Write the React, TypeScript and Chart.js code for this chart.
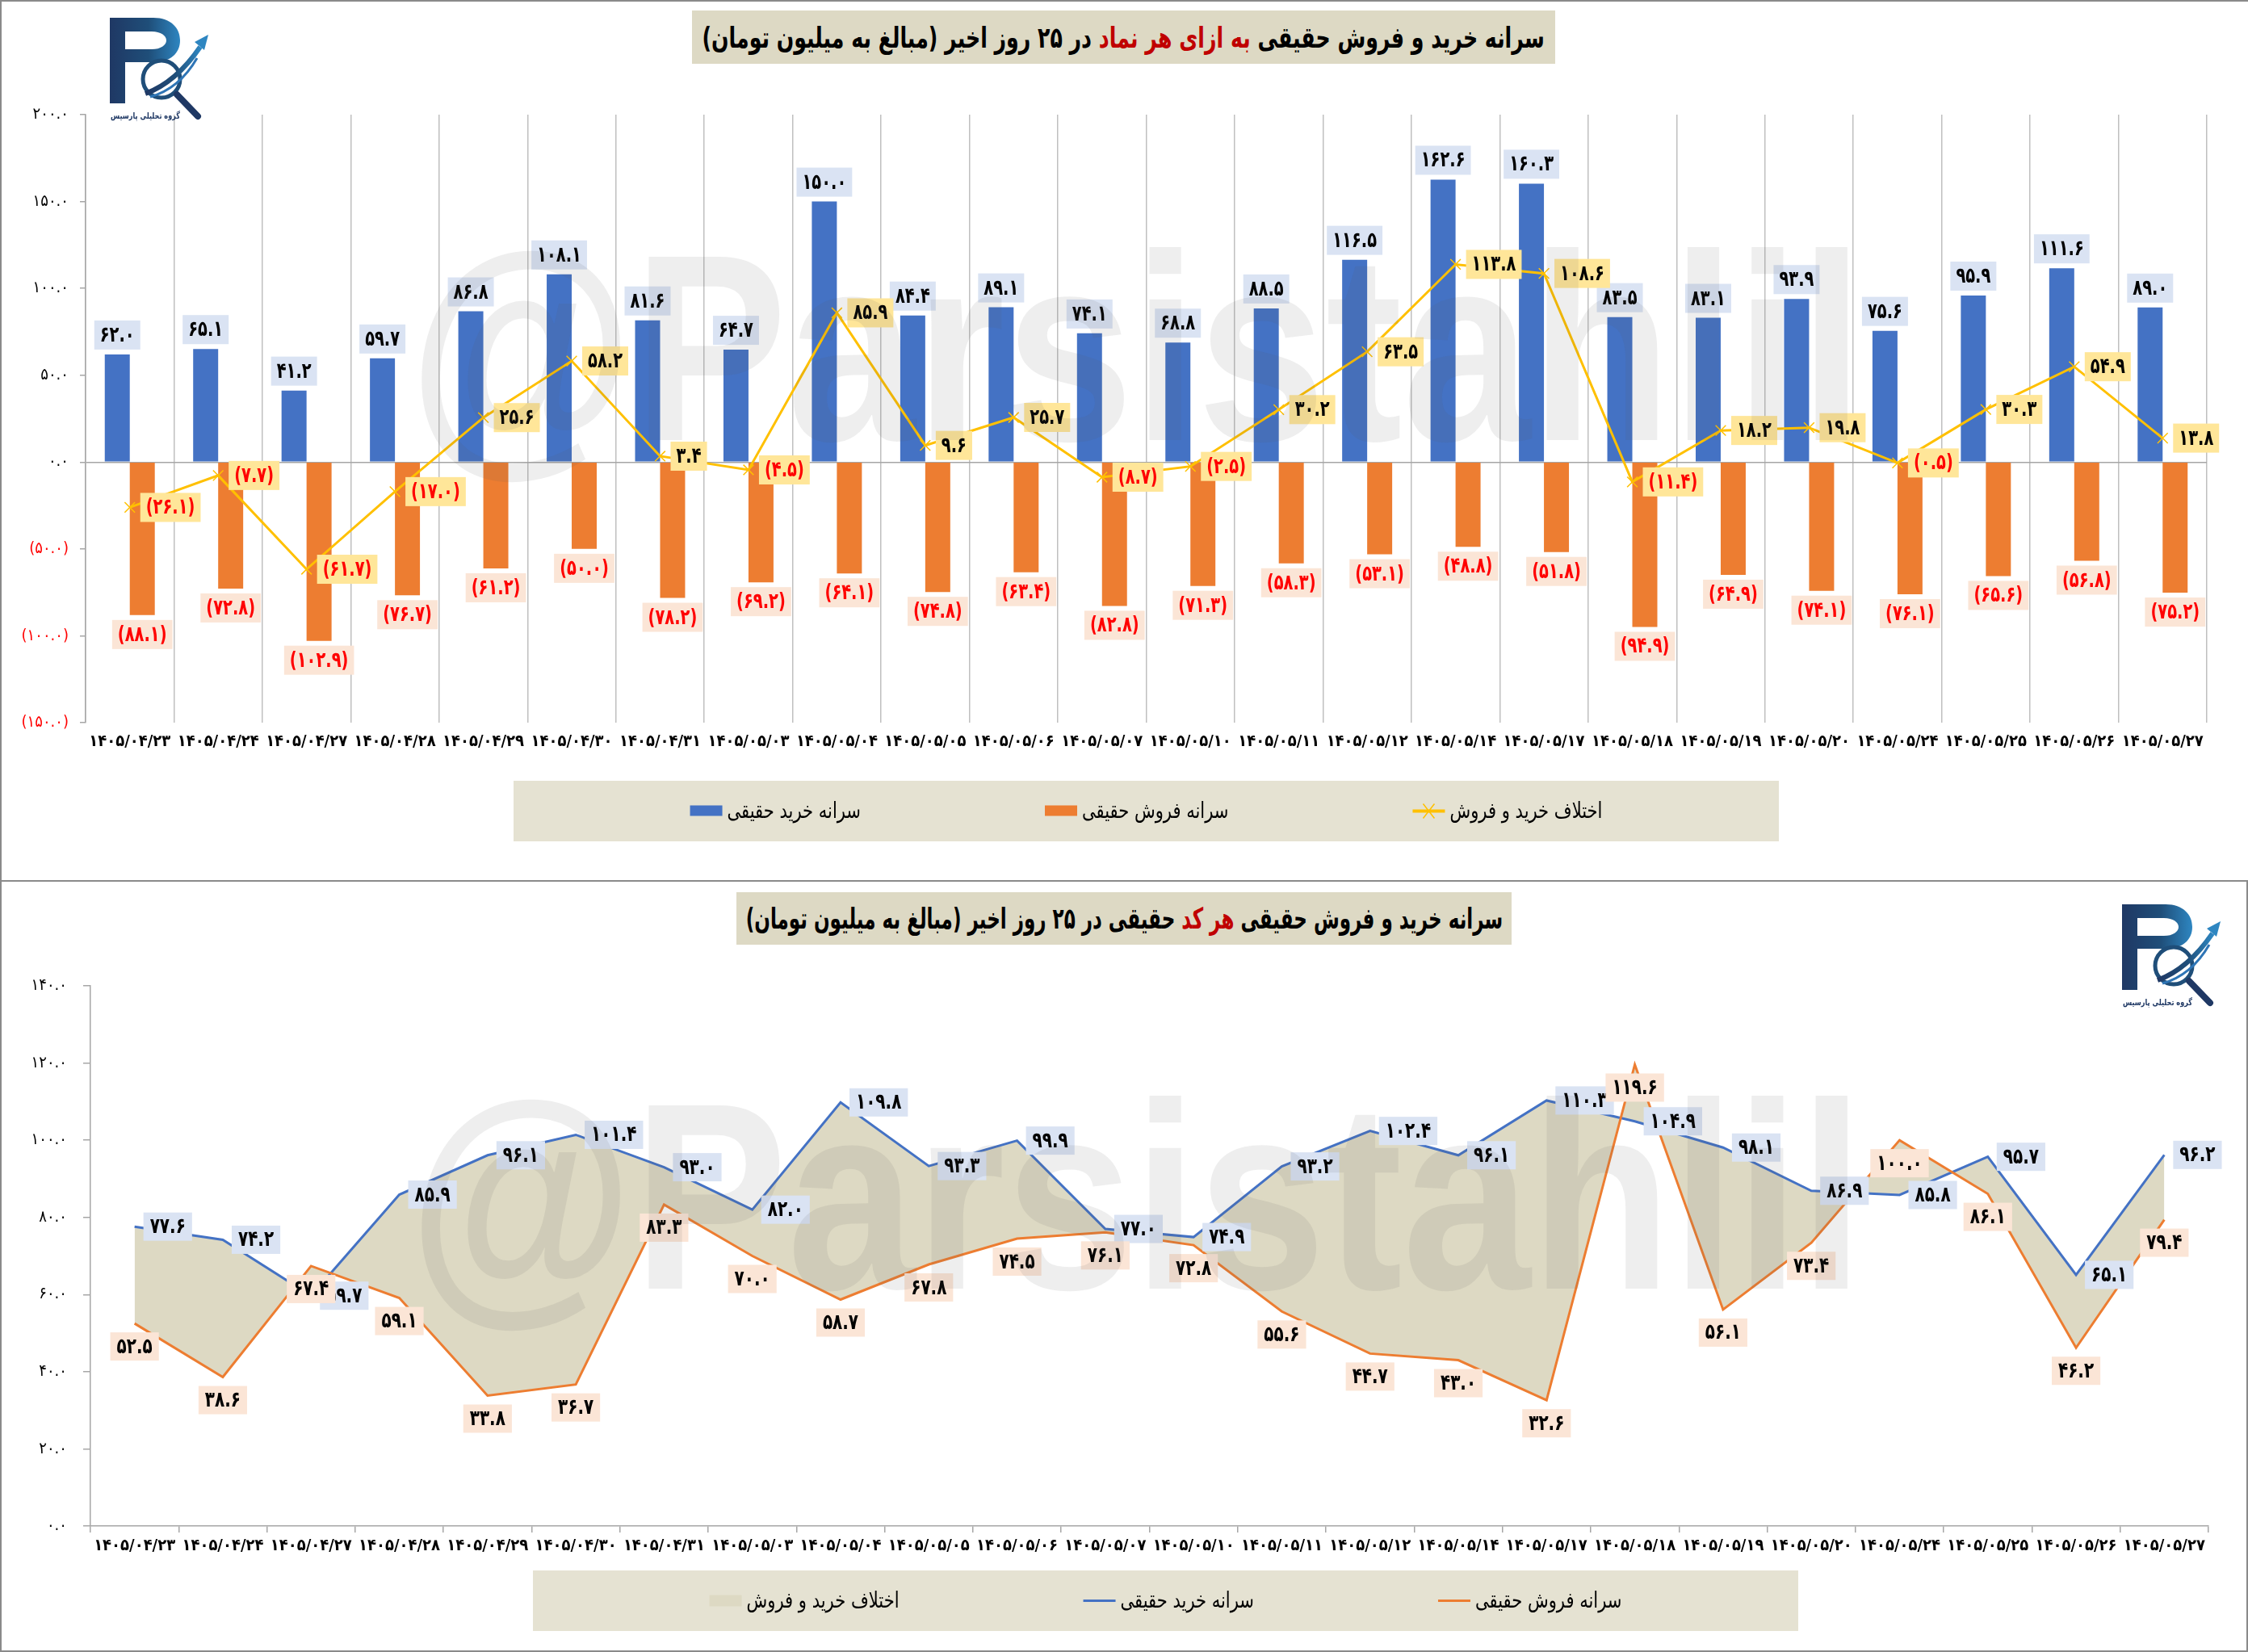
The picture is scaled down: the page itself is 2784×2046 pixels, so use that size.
import { useEffect, useRef } from "react";
import { Chart, registerables } from "chart.js";

Chart.register(...registerables);

const FONT = "'DejaVu Sans', sans-serif";
const NARROW = "'DejaVu Sans Condensed', 'DejaVu Sans', sans-serif";
Chart.defaults.font.family = FONT;
Chart.defaults.color = "#000";

// تاریخ‌ها (محور افقی هر دو نمودار)
const dates = [
  "۱۴۰۵/۰۴/۲۳", "۱۴۰۵/۰۴/۲۴", "۱۴۰۵/۰۴/۲۷", "۱۴۰۵/۰۴/۲۸", "۱۴۰۵/۰۴/۲۹", "۱۴۰۵/۰۴/۳۰",
  "۱۴۰۵/۰۴/۳۱", "۱۴۰۵/۰۵/۰۳", "۱۴۰۵/۰۵/۰۴", "۱۴۰۵/۰۵/۰۵", "۱۴۰۵/۰۵/۰۶", "۱۴۰۵/۰۵/۰۷",
  "۱۴۰۵/۰۵/۱۰", "۱۴۰۵/۰۵/۱۱", "۱۴۰۵/۰۵/۱۲", "۱۴۰۵/۰۵/۱۴", "۱۴۰۵/۰۵/۱۷", "۱۴۰۵/۰۵/۱۸",
  "۱۴۰۵/۰۵/۱۹", "۱۴۰۵/۰۵/۲۰", "۱۴۰۵/۰۵/۲۴", "۱۴۰۵/۰۵/۲۵", "۱۴۰۵/۰۵/۲۶", "۱۴۰۵/۰۵/۲۷",
];

// نمودار بالا: به ازای هر نماد
const symbolBuy = [62.0, 65.1, 41.2, 59.7, 86.8, 108.1, 81.6, 64.7, 150.0, 84.4, 89.1, 74.1, 68.8, 88.5, 116.5, 162.6, 160.3, 83.5, 83.1, 93.9, 75.6, 95.9, 111.6, 89.0];
const symbolSell = [-88.1, -72.8, -102.9, -76.7, -61.2, -50.0, -78.2, -69.2, -64.1, -74.8, -63.4, -82.8, -71.3, -58.3, -53.1, -48.8, -51.8, -94.9, -64.9, -74.1, -76.1, -65.6, -56.8, -75.2];
const symbolNet = [-26.1, -7.7, -61.7, -17.0, 25.6, 58.2, 3.4, -4.5, 85.9, 9.6, 25.7, -8.7, -2.5, 30.2, 63.5, 113.8, 108.6, -11.4, 18.2, 19.8, -0.5, 30.3, 54.9, 13.8];

// نمودار پایین: هر کد حقیقی
const codeBuy = [77.6, 74.2, 59.7, 85.9, 96.1, 101.4, 93.0, 82.0, 109.8, 93.3, 99.9, 77.0, 74.9, 93.2, 102.4, 96.1, 110.3, 104.9, 98.1, 86.9, 85.8, 95.7, 65.1, 96.2];
const codeSell = [52.5, 38.6, 67.4, 59.1, 33.8, 36.7, 83.3, 70.0, 58.7, 67.8, 74.5, 76.1, 72.8, 55.6, 44.7, 43.0, 32.6, 119.6, 56.1, 73.4, 100.0, 86.1, 46.2, 79.4];

const faDigits = "۰۱۲۳۴۵۶۷۸۹";
const fa = (v: number) => v.toFixed(1).replace(/\d/g, (d) => faDigits[+d]);
const faSigned = (v: number) => (v < 0 ? `(${fa(-v)})` : fa(v));

// text squeezed horizontally, to look like the narrow Persian display font
function narrowText(ctx: CanvasRenderingContext2D, text: string, x: number, y: number, sx: number) {
  ctx.save();
  ctx.translate(x, y);
  ctx.scale(sx, 1);
  ctx.fillText(text, 0, 0);
  ctx.restore();
}

// boxed value labels next to bars / points
const valueLabels = {
  id: "valueLabels",
  afterDatasetsDraw(chart: any) {
    const ctx = chart.ctx;
    chart.data.datasets.forEach((ds: any, i: number) => {
      const opt = ds.valueLabel;
      if (!opt) return;
      const meta = chart.getDatasetMeta(i);
      ctx.save();
      ctx.font = `bold ${opt.size}px ${FONT}`;
      ctx.textAlign = "center";
      ctx.textBaseline = "middle";
      meta.data.forEach((el: any, j: number) => {
        const v = ds.data[j];
        const text = faSigned(v);
        const w = ctx.measureText(text).width * opt.sx + opt.padX * 2;
        const h = opt.boxH;
        let cx = el.x;
        let cy = el.y;
        if (opt.pos === "top") cy = el.y - opt.gap - h / 2;
        else if (opt.pos === "bottom") cy = el.y + opt.gap + h / 2;
        else cx = el.x + opt.gap + w / 2;
        ctx.fillStyle = opt.bg;
        ctx.fillRect(cx - w / 2, cy - h / 2, w, h);
        ctx.fillStyle = v < 0 ? opt.negColor : opt.color;
        narrowText(ctx, text, cx, cy + 1, opt.sx);
      });
      ctx.restore();
    });
  },
};

// legend inside a shaded box
const boxLegend = {
  id: "boxLegend",
  afterDraw(chart: any, _args: any, opts: any) {
    const ctx = chart.ctx;
    const { x, y, w, h, gap, size, sx, bg } = opts;
    const sym = 40;
    const sp = 6;
    ctx.save();
    ctx.fillStyle = bg;
    ctx.fillRect(x, y, w, h);
    ctx.font = `${size}px ${FONT}`;
    ctx.textBaseline = "middle";
    ctx.textAlign = "left";
    const items = chart.data.datasets.map((ds: any) => ({ ds, tw: ctx.measureText(ds.label).width * sx }));
    const total = items.reduce((s: number, it: any) => s + sym + sp + it.tw, 0) + gap * (items.length - 1);
    let cx = x + (w - total) / 2;
    const cy = y + h / 2;
    items.forEach(({ ds, tw }: any) => {
      if (ds.legendSymbol === "box") {
        ctx.fillStyle = ds.backgroundColor;
        ctx.fillRect(cx, cy - 7, sym, 13);
      } else if (ds.legendSymbol === "area") {
        ctx.fillStyle = ds.backgroundColor;
        ctx.fillRect(cx, cy - 7, sym, 14);
      } else {
        ctx.strokeStyle = ds.borderColor;
        ctx.lineWidth = ds.legendLineWidth || 3;
        ctx.beginPath();
        ctx.moveTo(cx, cy);
        ctx.lineTo(cx + sym, cy);
        ctx.stroke();
        if (ds.pointStyle === "crossRot") {
          ctx.lineWidth = 1.5;
          ctx.beginPath();
          ctx.moveTo(cx + sym / 2 - 7, cy - 9);
          ctx.lineTo(cx + sym / 2 + 7, cy + 9);
          ctx.moveTo(cx + sym / 2 + 7, cy - 9);
          ctx.lineTo(cx + sym / 2 - 7, cy + 9);
          ctx.stroke();
        }
      }
      ctx.fillStyle = "#000";
      narrowText(ctx, ds.label, cx + sym + sp, cy + 1, sx);
      cx += sym + sp + tw + gap;
    });
    ctx.restore();
  },
};

const xTickFont = { family: NARROW, size: 20, weight: "bold" as const };
const yTickFont = { family: NARROW, size: 20 };

function SymbolChart() {
  const chartRef = useRef<HTMLCanvasElement>(null);
  const chartInstance = useRef<Chart | null>(null);

  useEffect(() => {
    if (!chartRef.current) return;
    if (chartInstance.current) chartInstance.current.destroy();

    chartInstance.current = new Chart(chartRef.current, {
      type: "bar",
      data: {
        labels: dates,
        datasets: [
          {
            type: "bar",
            label: "سرانه خرید حقیقی",
            data: symbolBuy,
            backgroundColor: "#4472c4",
            order: 1,
            legendSymbol: "box",
            valueLabel: { pos: "top", gap: 6, boxH: 36, padX: 7, size: 27, sx: 0.72, bg: "#dae3f3", color: "#000", negColor: "#ff0000" },
          } as any,
          {
            type: "bar",
            label: "سرانه فروش حقیقی",
            data: symbolSell,
            backgroundColor: "#ed7d31",
            order: 1,
            legendSymbol: "box",
            valueLabel: { pos: "bottom", gap: 6, boxH: 36, padX: 7, size: 27, sx: 0.72, bg: "#fbe5d6", color: "#ff0000", negColor: "#ff0000" },
          } as any,
          {
            type: "line",
            label: "اختلاف خرید و فروش",
            data: symbolNet,
            borderColor: "#ffc000",
            backgroundColor: "#ffc000",
            borderWidth: 3,
            pointStyle: "crossRot",
            pointRadius: 9,
            pointBorderColor: "#ffc000",
            pointBorderWidth: 1.5,
            order: 0,
            legendSymbol: "line",
            legendLineWidth: 4,
            valueLabel: { pos: "right", gap: 13, boxH: 36, padX: 7, size: 27, sx: 0.72, bg: "#ffe699", color: "#000", negColor: "#ff0000" },
          } as any,
        ],
      },
      options: {
        responsive: true,
        maintainAspectRatio: false,
        animation: false,
        datasets: { bar: { categoryPercentage: 0.566, barPercentage: 1 } },
        layout: { padding: { top: 142, right: 51, left: 0, bottom: 0 } },
        plugins: {
          legend: { display: false },
          tooltip: { enabled: false },
          boxLegend: { x: 636, y: 967, w: 1567, h: 75, gap: 228, size: 27, sx: 0.78, bg: "#e5e2d2" },
        } as any,
        scales: {
          x: {
            afterFit: (scale: any) => { scale.height = 197; },
            grid: { offset: true, color: "#bfbfbf", lineWidth: 1.5, drawTicks: false },
            border: { display: false },
            ticks: { autoSkip: false, maxRotation: 0, padding: 12, font: xTickFont },
          },
          y: {
            min: -150,
            max: 200,
            afterFit: (scale: any) => { scale.width = 106; },
            grid: {
              color: (c: any) => (c.tick && c.tick.value === 0 ? "#a6a6a6" : "transparent"),
              tickColor: "#a6a6a6",
              tickLength: 7,
              lineWidth: 1.5,
            },
            border: { display: true, color: "#a6a6a6", width: 1.5 },
            ticks: {
              stepSize: 50,
              padding: 14,
              font: yTickFont,
              color: (c: any) => (c.tick && c.tick.value < 0 ? "#ff0000" : "#000"),
              callback: (v: any) => faSigned(Number(v)),
            },
          },
        },
      },
      plugins: [valueLabels, boxLegend],
    } as any);

    return () => {
      if (chartInstance.current) {
        chartInstance.current.destroy();
        chartInstance.current = null;
      }
    };
  }, []);

  return (
    <div style={{ position: "absolute", left: 0, top: 0, width: 2784, height: 1092 }}>
      <canvas ref={chartRef} />
    </div>
  );
}

function CodeChart() {
  const chartRef = useRef<HTMLCanvasElement>(null);
  const chartInstance = useRef<Chart | null>(null);

  useEffect(() => {
    if (!chartRef.current) return;
    if (chartInstance.current) chartInstance.current.destroy();

    chartInstance.current = new Chart(chartRef.current, {
      type: "line",
      data: {
        labels: dates,
        datasets: [
          {
            label: "اختلاف خرید و فروش",
            data: codeBuy,
            borderColor: "transparent",
            borderWidth: 0,
            pointRadius: 0,
            backgroundColor: "#ddd9c3",
            fill: { target: 2 },
            order: 2,
            legendSymbol: "area",
          } as any,
          {
            label: "سرانه خرید حقیقی",
            data: codeBuy,
            borderColor: "#4472c4",
            borderWidth: 3,
            pointRadius: 0,
            fill: false,
            order: 1,
            legendSymbol: "line",
            valueLabel: { pos: "right", gap: 11, boxH: 35, padX: 8, size: 27, sx: 0.74, bg: "#dae3f3", color: "#000", negColor: "#000" },
          } as any,
          {
            label: "سرانه فروش حقیقی",
            data: codeSell,
            borderColor: "#ed7d31",
            borderWidth: 3,
            pointRadius: 0,
            fill: false,
            order: 0,
            legendSymbol: "line",
            valueLabel: { pos: "bottom", gap: 11, boxH: 35, padX: 8, size: 27, sx: 0.74, bg: "#fbe5d6", color: "#000", negColor: "#000" },
          } as any,
        ],
      },
      options: {
        responsive: true,
        maintainAspectRatio: false,
        animation: false,
        layout: { padding: { top: 129, right: 49, left: 0, bottom: 0 } },
        plugins: {
          legend: { display: false },
          tooltip: { enabled: false },
          boxLegend: { x: 660, y: 853, w: 1567, h: 75, gap: 228, size: 27, sx: 0.78, bg: "#e5e2d2" },
        } as any,
        scales: {
          x: {
            offset: true,
            afterFit: (scale: any) => { scale.height = 156; },
            grid: { offset: true, drawOnChartArea: false, tickColor: "#a6a6a6", tickLength: 8, lineWidth: 1.5 },
            border: { display: true, color: "#a6a6a6", width: 1.5 },
            ticks: { autoSkip: false, maxRotation: 0, padding: 5, font: xTickFont },
          },
          y: {
            min: 0,
            max: 140,
            afterFit: (scale: any) => { scale.width = 112; },
            grid: { drawOnChartArea: false, tickColor: "#a6a6a6", tickLength: 9, lineWidth: 1.5 },
            border: { display: true, color: "#a6a6a6", width: 1.5 },
            ticks: {
              stepSize: 20,
              padding: 20,
              font: yTickFont,
              callback: (v: any) => fa(Number(v)),
            },
          },
        },
      },
      plugins: [valueLabels, boxLegend],
    } as any);

    return () => {
      if (chartInstance.current) {
        chartInstance.current.destroy();
        chartInstance.current = null;
      }
    };
  }, []);

  return (
    <div style={{ position: "absolute", left: 0, top: 0, width: 2784, height: 954 }}>
      <canvas ref={chartRef} />
    </div>
  );
}

function Logo({ left, top }: { left: number; top: number }) {
  return (
    <svg width={150} height={150} viewBox="0 0 150 150" style={{ position: "absolute", left, top }}>
      <defs>
        <linearGradient id="logoGrad" x1="0" y1="0" x2="1" y2="0">
          <stop offset="0" stopColor="#1f3864" />
          <stop offset="0.55" stopColor="#1f4e79" />
          <stop offset="1" stopColor="#2e86c1" />
        </linearGradient>
      </defs>
      <path
        fillRule="evenodd"
        fill="url(#logoGrad)"
        d="M16 12 H70 C92 12 103 25 103 40 C103 56 91 67 70 67 H35 V118 H16 Z M35 29 H68 C79 29 86 34 86 40 C86 46 79 51 68 51 H35 Z"
      />
      <circle cx={80} cy={88} r={23} fill="#fff" stroke="#1f4e79" strokeWidth={5} />
      <path d="M60 106 Q 98 92 128 48" stroke="url(#logoGrad)" strokeWidth={6} fill="none" />
      <path d="M66 110 Q 102 100 124 62" stroke="#2e75b6" strokeWidth={3} fill="none" />
      <polygon points="121,42 138,33 133,52" fill="#2e86c1" />
      <line x1={99} y1={107} x2={125} y2={134} stroke="#1f3864" strokeWidth={8} strokeLinecap="round" />
      <text
        x={60}
        y={137}
        fontSize={11}
        fontWeight="bold"
        fill="#1f3864"
        textAnchor="middle"
        fontFamily="DejaVu Sans"
        textLength={86}
        lengthAdjust="spacingAndGlyphs"
      >
        گروه تحلیلی پارسیس
      </text>
    </svg>
  );
}

function Watermark({ baseline, height }: { baseline: number; height: number }) {
  return (
    <svg width={2784} height={height} style={{ position: "absolute", left: 0, top: 0, pointerEvents: "none" }}>
      <text
        x={506}
        y={baseline}
        fontSize={330}
        fontWeight="bold"
        fontFamily="'Liberation Sans', sans-serif"
        textLength={1802}
        lengthAdjust="spacingAndGlyphs"
        fill="rgba(90,90,90,0.1)"
      >
        @Parsistahlil
      </text>
    </svg>
  );
}

function TitleBox({ left, top, width, height, sx, children }: any) {
  return (
    <div
      style={{
        position: "absolute",
        left,
        top,
        width,
        height,
        background: "#ddd9c4",
        display: "flex",
        alignItems: "center",
        justifyContent: "center",
        direction: "rtl",
        whiteSpace: "nowrap",
        overflow: "hidden",
        font: `bold 36px ${FONT}`,
        color: "#000",
      }}
    >
      <span style={{ display: "inline-block", transform: `scaleX(${sx})` }}>{children}</span>
    </div>
  );
}

export default function App() {
  return (
    <div style={{ position: "fixed", left: 0, top: 0, width: 2784, height: 2046, background: "#fff", overflow: "hidden" }}>
      <div style={{ position: "absolute", left: 0, top: 0, width: 2784, height: 1092 }}>
        <SymbolChart />
        <TitleBox left={857} top={13} width={1069} height={66} sx={0.7}>
          سرانه خرید و فروش حقیقی <span style={{ color: "#c00000" }}>به ازای هر نماد</span> در ۲۵ روز اخیر (مبالغ به میلیون تومان)
        </TitleBox>
        <Logo left={120} top={10} />
        <Watermark baseline={545} height={1092} />
        <div style={{ position: "absolute", inset: 0, borderTop: "2px solid #8a8a8a", borderLeft: "2px solid #8a8a8a", borderBottom: "2px solid #8a8a8a", boxSizing: "border-box", pointerEvents: "none" }} />
      </div>
      <div style={{ position: "absolute", left: 0, top: 1092, width: 2784, height: 954 }}>
        <CodeChart />
        <TitleBox left={912} top={13} width={960} height={65} sx={0.64}>
          سرانه خرید و فروش حقیقی <span style={{ color: "#c00000" }}>هر کد</span> حقیقی در ۲۵ روز اخیر (مبالغ به میلیون تومان)
        </TitleBox>
        <Logo left={2612} top={16} />
        <Watermark baseline={504} height={954} />
        <div style={{ position: "absolute", inset: 0, borderLeft: "2px solid #8a8a8a", borderRight: "2px solid #8a8a8a", borderBottom: "2px solid #8a8a8a", boxSizing: "border-box", pointerEvents: "none" }} />
      </div>
    </div>
  );
}
